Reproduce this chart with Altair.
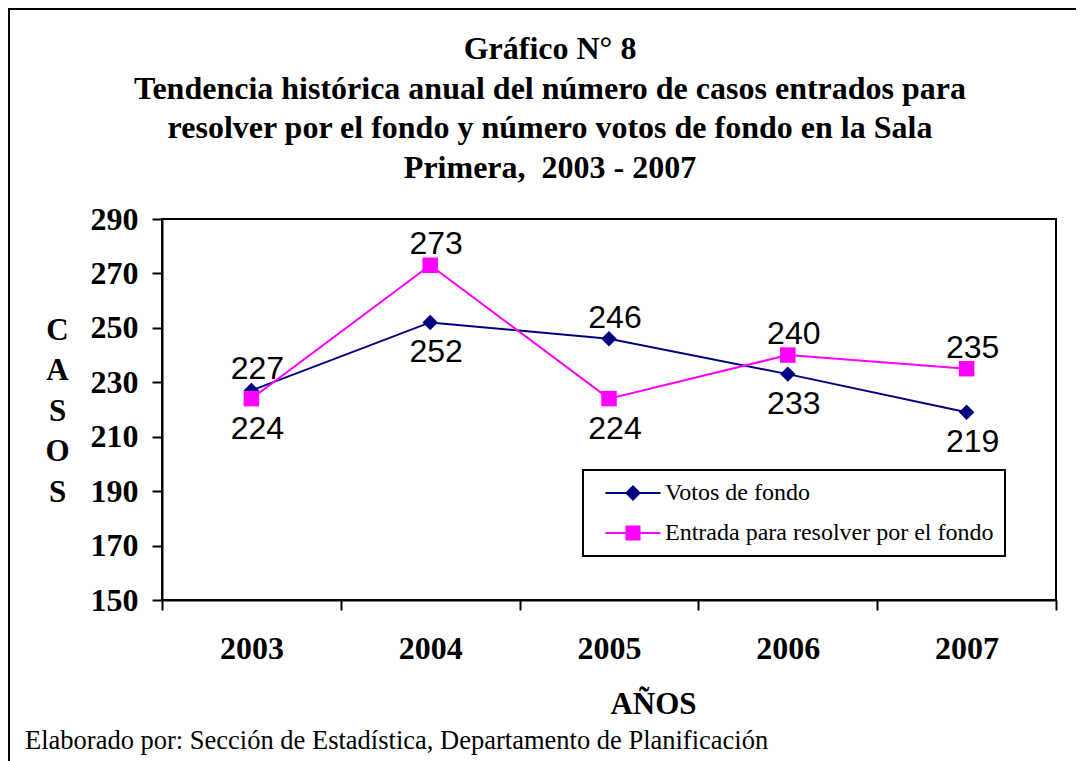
import altair as alt
import pandas as pd

YEARS = ["2003", "2004", "2005", "2006", "2007"]
SERIES = ["Votos de fondo", "Entrada para resolver por el fondo"]
VOTOS = [227, 252, 246, 233, 219]
ENTRADA = [224, 273, 224, 240, 235]
VOTOS_LABEL_SIDE = ["above", "below", "above", "below", "below"]
ENTRADA_LABEL_SIDE = ["below", "above", "below", "above", "above"]
COLORS = ["#000080", "#FF00FF"]
MARKERS = ["diamond", "square"]
Y_TICKS = [150, 170, 190, 210, 230, 250, 270, 290]
TITLE_LINES = [
    "Gráfico N° 8",
    "Tendencia histórica anual del número de casos entrados para",
    "resolver por el fondo y número votos de fondo en la Sala",
    "Primera,\u00a0 2003 - 2007",
]
Y_TITLE = ["C", "A", "S", "O", "S"]
X_TITLE = "AÑOS"
FOOTNOTE = "Elaborado por: Sección de Estadística, Departamento de Planificación"

rows = []
for name, vals, sides in [(SERIES[0], VOTOS, VOTOS_LABEL_SIDE), (SERIES[1], ENTRADA, ENTRADA_LABEL_SIDE)]:
    for y, v, s in zip(YEARS, vals, sides):
        rows.append({"year": y, "series": name, "value": v, "side": s})
df = pd.DataFrame(rows)

SERIF = "Liberation Serif"
SANS = "Liberation Sans"

color_scale = alt.Scale(domain=SERIES, range=COLORS)

x_enc = alt.X(
    "year:O",
    sort=YEARS,
    bandPosition=0.5,
    scale=alt.Scale(type="band", paddingInner=0, paddingOuter=0),
    axis=alt.Axis(
        title=X_TITLE, labelAngle=0, tickBand="extent", tickSize=10, tickWidth=2,
        tickColor="black", domainColor="black", domainWidth=2, grid=False,
        labelFont=SERIF, labelFontWeight="bold", labelFontSize=32, labelColor="black",
        labelPadding=23, titleFont=SERIF, titleFontWeight="bold", titleFontSize=31,
        titleColor="black", titleX=491, titleY=104, titleAlign="center",
        titleBaseline="middle",
    ),
)
y_enc = alt.Y(
    "value:Q",
    scale=alt.Scale(domain=[150, 290], nice=False, zero=False),
    axis=alt.Axis(
        values=Y_TICKS, title=Y_TITLE, titleAngle=0, titleX=-105, titleY=111,
        titleAlign="center", titleBaseline="middle", titleLineHeight=40.5,
        titleFont=SERIF, titleFontWeight="bold", titleFontSize=31, titleColor="black",
        tickSize=10, tickWidth=2, tickColor="black", domainColor="black", domainWidth=2,
        grid=False, labelFont=SERIF, labelFontWeight="bold", labelFontSize=32,
        labelColor="black", labelPadding=14,
    ),
)

# decorative outer frame
frame = alt.Chart(pd.DataFrame({"k": [0]})).mark_rect(
    filled=False, stroke="black", strokeWidth=2
).encode(x=alt.value(-153), x2=alt.value(960), y=alt.value(-210), y2=alt.value(580))

series_layers = []
for i, name in enumerate(SERIES):
    base = alt.Chart(df).transform_filter(alt.datum.series == name)
    series_layers.append(base.mark_line(strokeWidth=2, color=COLORS[i]).encode(x=x_enc, y=y_enc))
for i, name in enumerate(SERIES):
    base = alt.Chart(df).transform_filter(alt.datum.series == name)
    series_layers.append(
        base.mark_point(shape=MARKERS[i], filled=True, size=240, opacity=1, color=COLORS[i]).encode(x=x_enc, y=y_enc)
    )

# legend symbols: line segment + filled marker
def diamond_path():
    parts = ["M-3.667,0H3.667"]
    for k in [0.87, 0.67, 0.47, 0.27, 0.07]:
        parts.append(f"M0,{-k}L{k},0L0,{k}L{-k},0Z")
    return "".join(parts)

def square_path():
    parts = ["M-3.667,0H3.667"]
    for k in [0.87, 0.67, 0.47, 0.27, 0.07]:
        parts.append(f"M{-k},{-k}H{k}V{k}H{-k}Z")
    return "".join(parts)

LEG = alt.Legend(
    orient="none", legendX=421, legendY=251, title=None, direction="vertical",
    padding=11, rowPadding=16, symbolOffset=27, labelOffset=20,
    labelFont=SERIF, labelFontSize=24, labelColor="black", labelLimit=0,
    labelExpr="datum.label + '\u00a0\u00a0\u00a0\u2009'",
    symbolSize=225, symbolStrokeWidth=2, symbolOpacity=1,
    strokeColor="black", fillColor="white",
)

carrier = alt.Chart(df).transform_filter("false").mark_point(
    filled=False, size=225, opacity=1, strokeWidth=2
).encode(
    x=x_enc, y=y_enc,
    color=alt.Color("series:N", scale=color_scale, legend=LEG),
    shape=alt.Shape("series:N", scale=alt.Scale(domain=SERIES, range=[diamond_path(), square_path()]), legend=LEG),
)

lab_above = alt.Chart(df).transform_filter(alt.datum.side == "above").mark_text(
    font=SANS, fontSize=32, color="black", baseline="middle", dx=6, dy=-21
).encode(x=x_enc, y=y_enc, text=alt.Text("value:Q", format="d"))

lab_below = alt.Chart(df).transform_filter(alt.datum.side == "below").mark_text(
    font=SANS, fontSize=32, color="black", baseline="middle", dx=6, dy=30
).encode(x=x_enc, y=y_enc, text=alt.Text("value:Q", format="d"))

foot = alt.Chart(pd.DataFrame({"t": [FOOTNOTE]})).mark_text(
    font=SERIF, fontSize=26.5, color="black", align="left", baseline="alphabetic"
).encode(text="t:N", x=alt.value(-137), y=alt.value(530))

chart = alt.layer(frame, *series_layers, carrier, lab_above, lab_below, foot).properties(
    width=894,
    height=381,
    padding={"left": 154, "top": 211, "right": 20, "bottom": 168},
    autosize=alt.AutoSizeParams(type="none"),
    background="white",
    title=alt.TitleParams(
        text=TITLE_LINES, font=SERIF, fontSize=32, fontWeight="bold", color="black",
        lineHeight=39.5, anchor="middle", baseline="bottom", offset=-208.5, dx=-59,
    ),
).configure_view(stroke="black", strokeWidth=2).configure_legend(strokeWidth=2)

chart.save("out.html", embed_options={"renderer": "svg", "actions": False})
